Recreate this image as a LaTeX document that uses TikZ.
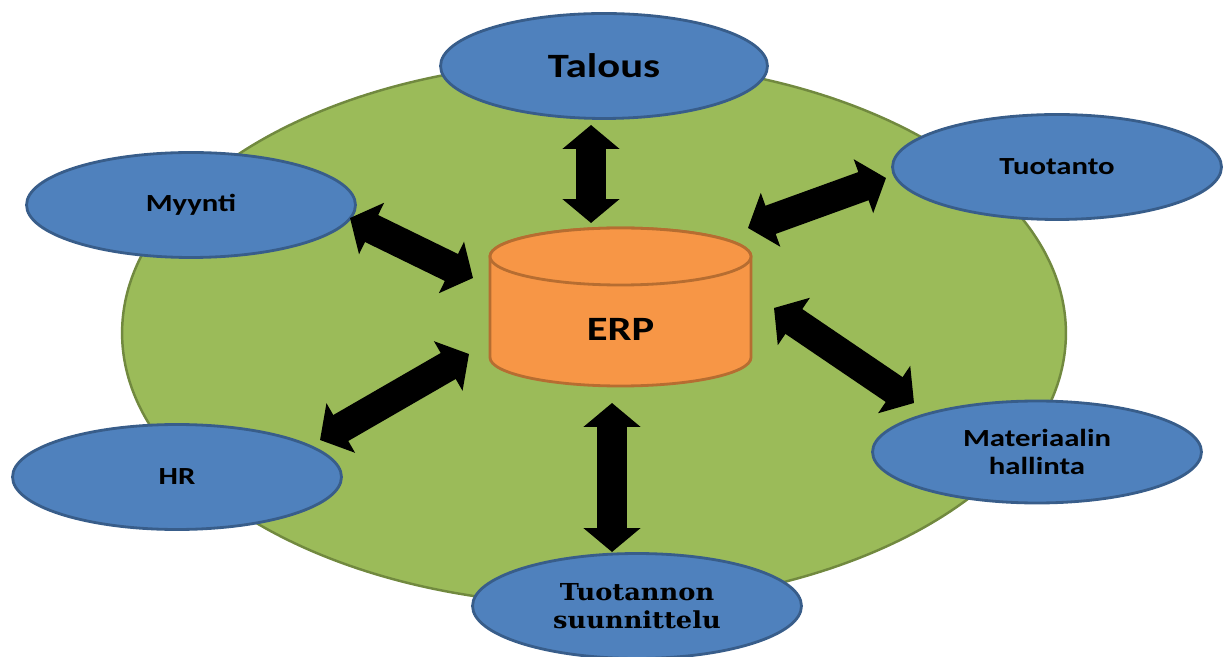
\documentclass[tikz,border=0pt]{standalone}
\usepackage{fontspec}
\usepackage{xcolor}
\definecolor{Col1}{RGB}{155,187,89}
\definecolor{Col2}{RGB}{113,137,63}
\definecolor{Col3}{RGB}{79,129,189}
\definecolor{Col4}{RGB}{56,93,138}
\definecolor{Col5}{RGB}{247,150,70}
\definecolor{Col6}{RGB}{182,109,49}
\newfontfamily\calibfont{Carlito}[FakeStretch=1.25]
\newfontfamily\cambfont{DejaVu Serif}[FakeStretch=1.1]
\usepackage{tikz}
\usetikzlibrary{shapes.geometric}
\usetikzlibrary{arrows.meta}
\tikzstyle{Ground}=[ellipse,draw=Col2,fill=Col1,line width=1.4pt,
minimum width=18.88cm,minimum height=10.88cm]
\tikzstyle{Unit}=[ellipse,draw=Col4,fill=Col3,line width=1.6pt,
minimum width=6.58cm,minimum height=2.1cm,inner sep=0pt,align=center,
font=\calibfont\bfseries\fontsize{14}{16}\selectfont]
\tikzstyle{UnitS}=[Unit,font=\cambfont\bfseries\fontsize{13.3}{16}\selectfont]
\tikzstyle{Core}=[draw=Col6,fill=Col5,line width=1.6pt]
\tikzstyle{Link}=[line width=0.6cm,
{Triangle[width=1.12cm,length=0.48cm]}-{Triangle[width=1.12cm,length=0.48cm]}]

\begin{document}
\begin{tikzpicture}[x=0.02cm,y=0.02cm]
        \useasboundingbox (0,0) rectangle (1226,656);
        \node[Ground](g)at(594,323){};
        \node[Unit,minimum width=6.54cm,
            font=\calibfont\bfseries\fontsize{19.4}{22}\selectfont]
            (talous)at(604,590){Talous};
        \node[Unit](myynti)at(191,451){Myynti};
        \node[Unit](tuotanto)at(1057,489){Tuotanto};
        \node[Unit](hr)at(177,179){HR};
        \node[Unit,minimum height=2.04cm](mat)at(1037,204)
            {Materiaalin\\hallinta};
        \node[UnitS](suun)at(637,50){Tuotannon\\suunnittelu};
        % ERP cylinder
        \filldraw[Core](490,399.5)--(490,298.5)
            arc[start angle=180,end angle=360,x radius=130.5,y radius=28.5]
            --(751,399.5)
            arc[start angle=0,end angle=180,x radius=130.5,y radius=28.5]
            --cycle;
        \draw[Core](620.5,399.5)ellipse[x radius=130.5,y radius=28.5];
        \node[font=\calibfont\bfseries\fontsize{19.4}{22}\selectfont]
            (erp)at(620.5,327){ERP};
        \coordinate(t1)at(591,531);
        \coordinate(t2)at(591,433);
        \coordinate(u1)at(886,478);
        \coordinate(u2)at(748,428);
        \coordinate(m1)at(350,438);
        \coordinate(m2)at(473,378);
        \coordinate(h1)at(320,216);
        \coordinate(h2)at(469,302);
        \coordinate(a1)at(914,253);
        \coordinate(a2)at(774,348);
        \coordinate(s1)at(612,104);
        \coordinate(s2)at(612,253);
        \draw[Link](t1)--(t2);
        \draw[Link](u1)--(u2);
        \draw[Link](m1)--(m2);
        \draw[Link](h1)--(h2);
        \draw[Link](a1)--(a2);
        \draw[Link](s1)--(s2);
    \end{tikzpicture}
\end{document}
